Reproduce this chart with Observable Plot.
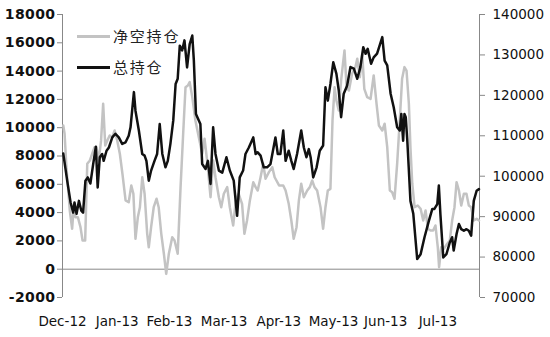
<!DOCTYPE html>
<html><head><meta charset="utf-8">
<script src="https://cdn.jsdelivr.net/npm/d3@7"></script>
<script src="https://cdn.jsdelivr.net/npm/@observablehq/plot@0.6"></script>
<style>
body{margin:0;background:#fff;}
#wrap{position:relative;width:550px;height:337px;overflow:hidden;background:#fff;}
.leg{position:absolute;left:77px;height:20px;line-height:20px;font-family:"Noto Sans CJK SC";font-size:15px;letter-spacing:1.8px;color:#222;display:flex;align-items:center;white-space:nowrap;}
.leg i{display:inline-block;width:33px;height:3px;margin-right:3px;}
</style></head><body><div id="wrap"></div>
<script>
// 净空持仓 (left axis): [trading-day index, value]
const netShort = [[0.3,10160],[0.8,9570],[1.5,7210],[2.8,4150],[3.7,2860],[4.3,4380],[5.0,3670],[5.9,3670],[6.9,2970],[7.7,2030],[8.7,2030],[9.5,7450],[10.5,7680],[11.4,8160],[12.3,8620],[13.0,8620],[13.9,7680],[14.8,9100],[15.6,11690],[16.4,8740],[17.2,9100],[18.1,9450],[19.1,9330],[20.0,9800],[21.0,9100],[22.0,8160],[23.0,6740],[24.2,4860],[25.4,4730],[26.4,5920],[27.2,5330],[28.0,2150],[28.9,3670],[29.7,4380],[30.6,6500],[31.5,5330],[32.5,2500],[33.1,1550],[34.0,2970],[35.0,4380],[36.1,4980],[36.9,4380],[37.9,2500],[38.9,1090],[39.8,-330],[40.8,1090],[42.1,2260],[43.0,2030],[44.2,1090],[45.3,5800],[46.3,9570],[47.2,12860],[48.1,12980],[48.8,13220],[49.8,12160],[51.0,10510],[52.3,9330],[53.6,8160],[54.5,9220],[55.5,7680],[56.8,5090],[57.8,7680],[58.7,6500],[60.0,5090],[60.9,4380],[61.9,5330],[63.2,5800],[64.2,4380],[65.5,3090],[66.5,4860],[67.6,5330],[68.9,4620],[69.8,2500],[70.8,3440],[71.9,4860],[73.2,6150],[74.1,5800],[74.9,5560],[76.0,6500],[77.0,7450],[77.9,6390],[79.2,6860],[80.5,7210],[81.4,6500],[83.1,5920],[84.7,5920],[85.6,5560],[86.8,4620],[87.8,3440],[88.7,2150],[89.8,2970],[90.7,4860],[91.6,6040],[92.6,5090],[93.9,5560],[94.9,5800],[95.8,6270],[96.7,5800],[97.7,5560],[99.0,4380],[100.0,2860],[100.9,4380],[101.8,5560],[102.8,5680],[103.6,10510],[104.4,12860],[105.1,11920],[106.0,11220],[106.9,13340],[108.2,15460],[109.0,12860],[109.9,12630],[111.1,13810],[112.4,14280],[113.1,14870],[114.1,13570],[115.0,15220],[115.8,12750],[116.9,12160],[118.2,12040],[119.4,13690],[120.5,11690],[121.4,10160],[122.7,9800],[123.6,10280],[124.6,8620],[125.6,5560],[126.5,5440],[127.4,4980],[128.4,7450],[129.4,10510],[130.3,13460],[131.2,14280],[132.0,14040],[132.9,11690],[133.5,8620],[134.2,6060],[135.1,4380],[136.3,4500],[137.4,4270],[138.4,3440],[139.3,4150],[140.2,2860],[141.2,2740],[142.2,2740],[143.1,3090],[144.0,1550],[144.5,140],[145.3,1550],[146.3,1440],[147.6,1800],[148.6,2030],[149.5,3440],[150.4,4380],[151.2,6150],[152.1,5560],[153.0,4500],[154.0,5330],[155.0,5330],[155.9,4500],[156.8,4380],[157.8,3440],[158.9,3560],[159.8,3440]];

// 总持仓 (right axis): [trading-day index, value]
const total = [[0.3,105600],[1.8,98900],[3.1,93500],[4.1,91000],[4.6,93500],[5.4,90700],[6.3,93900],[7.2,91500],[7.9,91000],[8.8,98900],[9.7,99700],[10.7,98200],[11.8,103100],[12.8,107300],[13.5,97200],[14.3,104700],[15.2,105500],[15.8,103800],[16.9,106300],[17.8,107100],[19.1,109600],[20.3,110500],[21.6,109600],[22.9,108000],[24.2,108400],[25.4,110000],[26.1,112100],[27.4,120800],[28.0,116200],[29.3,111300],[30.6,105500],[31.5,105100],[32.2,103800],[33.1,98900],[34.0,101400],[35.3,103800],[36.3,105500],[37.3,112900],[38.3,105500],[39.5,102200],[40.4,103800],[41.4,108000],[42.5,113800],[43.4,122800],[44.2,124100],[45.0,132300],[45.9,131100],[46.8,133600],[47.8,126900],[48.8,132700],[49.8,134800],[50.4,128600],[51.2,115400],[52.3,113800],[52.9,112900],[53.6,103000],[54.9,101800],[55.8,103800],[56.8,98100],[57.8,112100],[58.7,105500],[60.0,101400],[61.3,100900],[62.9,104700],[64.2,101400],[65.7,98900],[67.0,90200],[68.0,99700],[69.3,101400],[70.2,105500],[71.5,107100],[73.2,109600],[74.1,105500],[74.9,105900],[76.0,105100],[77.2,102200],[78.5,102200],[79.8,103000],[81.7,109600],[82.6,105500],[83.6,105500],[84.7,111300],[85.6,103800],[86.8,106300],[87.8,103800],[88.7,101800],[90.0,105500],[91.6,111300],[92.6,107100],[93.6,104700],[94.5,106700],[95.2,104700],[96.2,99700],[97.5,102200],[98.7,106300],[100.0,107600],[100.9,122000],[101.8,118700],[102.8,122800],[103.9,128200],[105.1,125300],[106.0,121200],[106.9,114600],[107.9,120400],[109.2,122400],[110.5,127000],[111.8,126600],[113.1,124100],[114.3,127000],[115.4,131900],[116.3,130300],[117.1,131500],[118.4,127800],[119.4,129400],[120.7,130300],[122.7,134400],[123.6,128600],[124.6,127400],[125.9,120400],[127.1,117000],[128.4,112100],[129.4,111300],[130.0,115400],[130.7,108800],[131.2,115400],[131.7,114600],[132.3,108800],[132.9,101400],[133.5,93900],[134.6,90700],[136.1,79500],[137.4,80700],[138.9,84900],[140.6,89000],[141.9,91900],[142.7,91900],[143.8,93100],[144.4,97700],[145.0,90600],[146.1,79900],[147.3,80700],[148.6,83600],[149.5,84900],[150.1,81600],[151.2,85700],[152.1,88200],[153.0,86900],[154.0,86500],[155.0,86900],[155.9,86500],[156.8,85300],[157.8,93900],[158.9,96400],[159.8,96800]];

const leftTicks = [-2000,0,2000,4000,6000,8000,10000,12000,14000,16000,18000];
const rightTicks = [70000,80000,90000,100000,110000,120000,130000,140000];
const monthPos = [0,21,41,62,83,104,124,144];
const monthLabels = ["Dec-12","Jan-13","Feb-13","Mar-13","Apr-13","May-13","Jun-13","Jul-13"];
const seriesNames = ["净空持仓","总持仓"];
const seriesColors = ["#c3c3c3","#111111"];

// right axis [70000,140000] mapped onto left axis [-2000,18000]
const toLeft = v => (v - 70000) / 3.5 - 2000;
const fromLeft = y => (y + 2000) * 3.5 + 70000;

const chart = Plot.plot({
  width: 550, height: 337,
  marginLeft: 62, marginRight: 71, marginTop: 14, marginBottom: 40,
  x: {domain: [0, 160]},
  y: {domain: [-2000, 18000]},
  style: {fontFamily: "DejaVu Sans", fontSize: "13px", color: "#111", background: "#fff"},
  marks: [
    Plot.ruleY([0], {stroke: "#888"}),
    Plot.ruleX([0, 160], {stroke: "#888"}),
    Plot.axisY(leftTicks, {anchor: "left", tickSize: 5, tickPadding: 2, stroke: "#888", fontWeight: "bold", fontSize: 14, tickFormat: d => String(d)}),
    Plot.axisY(rightTicks.map(toLeft), {anchor: "right", tickSize: 5, tickPadding: 8, stroke: "#888", fontSize: 13.5, tickFormat: d => String(Math.round(fromLeft(d)))}),
    Plot.axisX(monthPos, {anchor: "bottom", tickSize: 0, tickPadding: 19, fontSize: 13.5, tickFormat: d => monthLabels[monthPos.indexOf(d)]}),
    Plot.line(netShort, {x: d => d[0], y: d => d[1], stroke: seriesColors[0], strokeWidth: 2.5}),
    Plot.line(total, {x: d => d[0], y: d => toLeft(d[1]), stroke: seriesColors[1], strokeWidth: 2.5})
  ]
});
const wrap = document.getElementById("wrap");
wrap.appendChild(chart);
const yLabels = chart.querySelectorAll('g[aria-label="y-axis tick label"]');
if (yLabels.length) yLabels[0].style.letterSpacing = "0.4px";
seriesNames.forEach((name, i) => {
  const el = document.createElement("div");
  el.className = "leg";
  el.style.top = (i === 0 ? 26 : 57) + "px";
  const sw = document.createElement("i");
  sw.style.background = seriesColors[i];
  el.appendChild(sw);
  el.appendChild(document.createTextNode(name));
  wrap.appendChild(el);
});
</script></body></html>
